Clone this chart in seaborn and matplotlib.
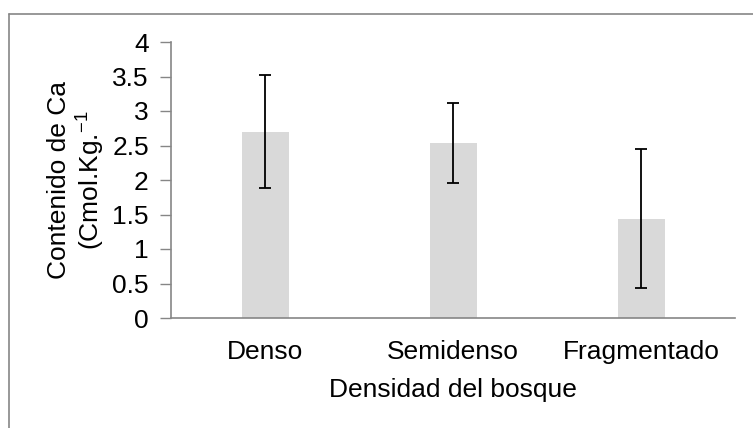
import matplotlib
matplotlib.use("Agg")
import matplotlib.pyplot as plt
from matplotlib.lines import Line2D
import seaborn as sns
import pandas as pd

categories = ["Denso", "Semidenso", "Fragmentado"]
values = [2.70, 2.53, 1.44]
errors = [0.82, 0.58, 1.01]
y_ticks = [0, 0.5, 1, 1.5, 2, 2.5, 3, 3.5, 4]
y_tick_labels = ["0", "0.5", "1", "1.5", "2", "2.5", "3", "3.5", "4"]

df = pd.DataFrame({"cat": categories, "val": values, "err": errors})

sns.set_theme(style="white")
plt.rcParams["font.family"] = ["Liberation Sans", "DejaVu Sans"]
plt.rcParams["mathtext.fontset"] = "custom"
plt.rcParams["mathtext.rm"] = "Liberation Sans"
plt.rcParams["mathtext.it"] = "Liberation Sans:italic"
plt.rcParams["mathtext.bf"] = "Liberation Sans:bold"

FS = 19

W, H = 753, 428
fig = plt.figure(figsize=(W / 100, H / 100), dpi=100)
ax = fig.add_axes([171 / W, 1 - 318 / H, (735 - 171) / W, (318 - 42) / H])

sns.barplot(data=df, x="cat", y="val", color="#d9d9d9", width=0.25,
            errorbar=None, ax=ax, saturation=1, edgecolor="none")
ax.errorbar(x=range(len(categories)), y=df["val"], yerr=df["err"], fmt="none",
            ecolor="black", elinewidth=1.3, capsize=4.5, capthick=1.3)

ax.set_xlim(-0.5, 2.5)
ax.set_ylim(0, 4)
ax.set_yticks(y_ticks)
ax.set_yticklabels(y_tick_labels)
ax.tick_params(axis="y", which="both", left=True, length=8, width=1,
               color="#868686", labelsize=FS, pad=8, labelcolor="black")
ax.tick_params(axis="x", bottom=False, length=0, labelsize=FS, pad=16, labelcolor="black")
for s in ["top", "right"]:
    ax.spines[s].set_visible(False)
for s in ["left", "bottom"]:
    ax.spines[s].set_color("#868686")
    ax.spines[s].set_linewidth(1.2)

ax.set_xlabel("Densidad del bosque", fontsize=FS, color="black", labelpad=10)
ax.set_ylabel("Contenido de Ca\n(Cmol.Kg.$^{\\mathrm{-1}}$", fontsize=FS, color="black",
              labelpad=4, linespacing=1.15)

# outer chart border (cropped at right and bottom)
fig.add_artist(Line2D([8.5 / W, 8.5 / W], [0, 1 - 13.5 / H], transform=fig.transFigure,
                      color="#868686", linewidth=1.2))
fig.add_artist(Line2D([8.5 / W, 1], [1 - 13.5 / H, 1 - 13.5 / H], transform=fig.transFigure,
                      color="#868686", linewidth=1.2))

fig.savefig("out.png", dpi=100)
